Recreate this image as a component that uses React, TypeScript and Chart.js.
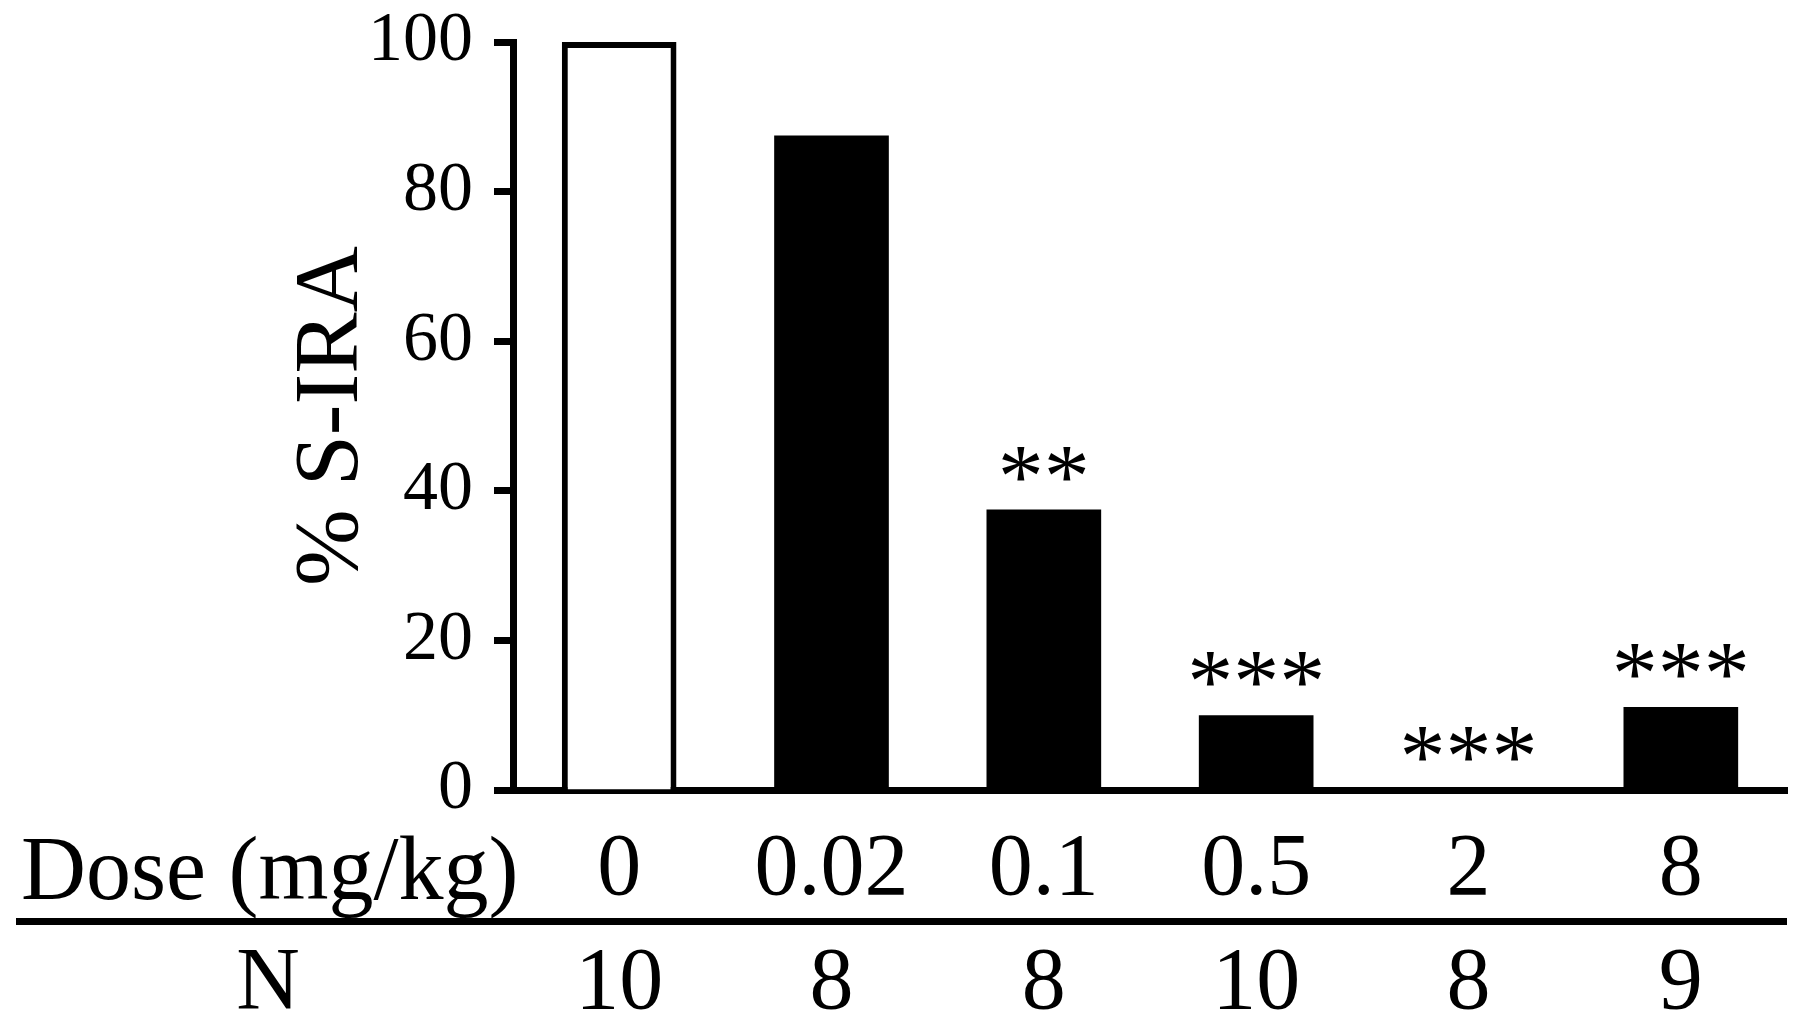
import { useEffect, useRef } from "react";
import { Chart, registerables } from "chart.js";

Chart.register(...registerables);

const doses = ["0", "0.02", "0.1", "0.5", "2", "8"];
const sIraPercent = [100, 87.5, 37.5, 10, 0, 11.1];
const nValues = ["10", "8", "8", "10", "8", "9"];
const significance = ["", "", "**", "***", "***", "***"];
const barFills = ["#ffffff", "#000000", "#000000", "#000000", "#000000", "#000000"];
const yTickValues = [0, 20, 40, 60, 80, 100];

const SERIF = '"Liberation Serif", "Times New Roman", serif';

const annotations = {
  id: "annotations",
  afterDraw(chart: any) {
    const ctx = chart.ctx;
    const xs = chart.scales.x;
    const ys = chart.scales.y;
    ctx.save();
    ctx.fillStyle = "#000";
    ctx.textBaseline = "alphabetic";
    ctx.textAlign = "center";
    ctx.font = `92px ${SERIF}`;
    significance.forEach((s, i) => {
      if (!s) return;
      const px = xs.getPixelForValue(i);
      const py = ys.getPixelForValue(sIraPercent[i]);
      ctx.fillText(s, px, py - 3);
    });
    ctx.font = `90px ${SERIF}`;
    ctx.textAlign = "left";
    ctx.fillText("Dose (mg/kg)", 21, 899);
    ctx.fillRect(16, 918, xs.right - 16, 7);
    ctx.textAlign = "center";
    ctx.font = `88px ${SERIF}`;
    ctx.fillText("N", 268, 1008);
    nValues.forEach((n, i) => {
      ctx.fillText(n, xs.getPixelForValue(i), 1008);
    });
    ctx.restore();
  },
};

export default function App() {
  const ref = useRef<HTMLCanvasElement>(null);
  useEffect(() => {
    if (!ref.current) return;
    const chart = new Chart(ref.current, {
      type: "bar",
      data: {
        labels: doses,
        datasets: [
          {
            data: sIraPercent,
            backgroundColor: barFills,
            borderColor: "#000000",
            borderWidth: [6, 0, 0, 0, 0, 0],
            borderSkipped: "start",
            barPercentage: 0.54,
            categoryPercentage: 1,
          },
        ],
      },
      options: {
        responsive: false,
        animation: false,
        layout: { padding: { left: 0, right: 13, top: 42, bottom: 0 } },
        plugins: { legend: { display: false }, tooltip: { enabled: false } },
        scales: {
          x: {
            grid: { display: true, drawOnChartArea: false, drawTicks: false },
            border: { display: true, color: "#000", width: 7 },
            ticks: {
              color: "#000",
              font: { family: SERIF, size: 88 },
              padding: 28,
            },
            afterFit: (s: any) => {
              s.height = 239;
              s.paddingLeft = 0;
              s.paddingRight = 0;
            },
          },
          y: {
            min: 0,
            max: 100,
            afterBuildTicks: (s: any) => {
              s.ticks = yTickValues.map((v) => ({ value: v }));
            },
            grid: {
              display: true,
              drawOnChartArea: false,
              drawTicks: true,
              tickLength: 19,
              tickWidth: 7,
              tickColor: "#000",
            },
            border: { display: true, color: "#000", width: 7 },
            ticks: {
              color: "#000",
              font: { family: SERIF, size: 70 },
              padding: 21,
            },
            title: {
              display: true,
              text: "% S-IRA",
              color: "#000",
              font: { family: SERIF, size: 92 },
              padding: { top: 278, bottom: 0 },
            },
            afterFit: (s: any) => {
              s.width = 513;
              s.paddingTop = 0;
              s.paddingBottom = 0;
            },
          },
        },
      },
      plugins: [annotations],
    });
    return () => chart.destroy();
  }, []);
  return (
    <div style={{ position: "fixed", left: 0, top: 0, width: 1800, height: 1029, background: "#fff" }}>
      <canvas ref={ref} width={1800} height={1029} style={{ display: "block" }} />
    </div>
  );
}
